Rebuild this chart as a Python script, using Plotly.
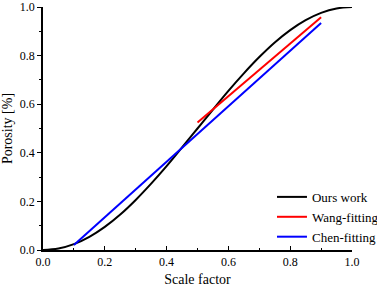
import plotly.graph_objects as go

# Data
ours_x = [0, 0.05, 0.1, 0.15, 0.2, 0.25, 0.3, 0.35, 0.4, 0.45, 0.5,
          0.55, 0.6, 0.65, 0.7, 0.75, 0.8, 0.85, 0.9, 0.95, 1.0]
ours_y = [0, 0.006, 0.024, 0.054, 0.095, 0.146, 0.206, 0.273, 0.345, 0.422, 0.5,
          0.578, 0.655, 0.727, 0.794, 0.854, 0.905, 0.946, 0.976, 0.994, 1.0]
wang_x = [0.5, 0.9]
wang_y = [0.525, 0.958]
chen_x = [0.1, 0.9]
chen_y = [0.021, 0.934]
x_ticks = [0.0, 0.2, 0.4, 0.6, 0.8, 1.0]
y_ticks = [0.0, 0.2, 0.4, 0.6, 0.8, 1.0]

FONT = "Times New Roman"

fig = go.Figure()
fig.add_trace(go.Scatter(x=ours_x, y=ours_y, mode="lines", name="Ours work",
                         line=dict(color="black", width=2, shape="spline")))
fig.add_trace(go.Scatter(x=wang_x, y=wang_y, mode="lines", name="Wang-fitting",
                         line=dict(color="red", width=2)))
fig.add_trace(go.Scatter(x=chen_x, y=chen_y, mode="lines", name="Chen-fitting",
                         line=dict(color="blue", width=2)))

axis_common = dict(
    showline=True, linecolor="black", linewidth=1.5, mirror=False,
    ticklen=4, tickwidth=1, tickcolor="black",
    showgrid=False, zeroline=False, automargin=False,
    tickfont=dict(family=FONT, size=12, color="black"),
)

fig.update_xaxes(range=[0, 1.0], tickvals=x_ticks, ticktext=[f"{v:.1f}" for v in x_ticks],
                 ticks="inside",
                 minor=dict(ticks="inside", ticklen=2, tickcolor="black", dtick=0.1, showgrid=False),
                 title=dict(text="Scale factor", font=dict(family=FONT, size=14, color="black"), standoff=6),
                 **axis_common)
fig.update_yaxes(range=[0, 1.0], tickvals=y_ticks, ticktext=[f"{v:.1f}" for v in y_ticks],
                 ticks="outside",
                 minor=dict(ticks="outside", ticklen=2, tickcolor="black", dtick=0.1, showgrid=False),
                 title=dict(text="Porosity [%]", font=dict(family=FONT, size=14, color="black"), standoff=6),
                 **axis_common)

fig.update_layout(
    width=377, height=290,
    margin=dict(l=43, r=25, t=7, b=40, autoexpand=False),
    paper_bgcolor="white", plot_bgcolor="white",
    font=dict(family=FONT, color="black"),
    legend=dict(x=0.741, y=-0.008, xanchor="left", yanchor="bottom",
                font=dict(family=FONT, size=13, color="black"),
                bgcolor="rgba(0,0,0,0)", tracegroupgap=0, itemwidth=30),
    showlegend=True,
)

fig.write_html("out.html", config={"displayModeBar": False},
               post_script="document.body.style.margin='0';")
